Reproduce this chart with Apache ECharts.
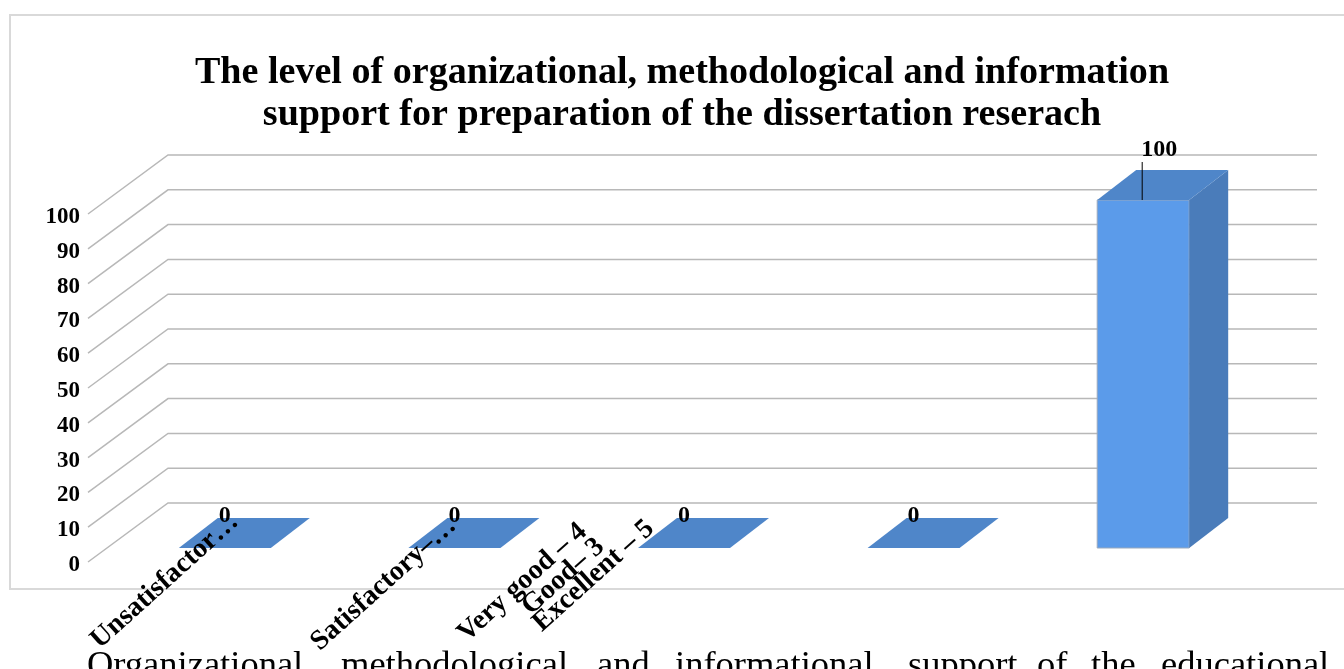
<!DOCTYPE html>
<html><head><meta charset="utf-8">
<style>html,body{margin:0;padding:0;background:#fff}#c{width:1344px;height:669px}</style>
<script src="https://cdn.jsdelivr.net/npm/echarts@6/dist/echarts.min.js"></script>
</head><body><div id="c"></div>
<script>
const categories = ['Unsatisfactor…', 'Satisfactory–…', 'Very good – 4', 'Good– 3', 'Excellent – 5'];
const values = [0, 0, 0, 0, 100];
const yTicks = [0, 10, 20, 30, 40, 50, 60, 70, 80, 90, 100];
const titleText = 'The level of organizational, methodological and information\nsupport for preparation of the dissertation reserach';
const bodyWords = ['Organizational,', 'methodological', 'and', 'informational', 'support', 'of', 'the', 'educational'];

// layout (pixels)
const bodyWordX = [87, 341, 597, 675, 908, 1037, 1091, 1161];
const labelShift = [[10, -30], [-2, -26], [-101, -20], [-313, -5], [-493, -23]];
const serif = '"Liberation Serif", serif';
const depth = [39, -30];

const chart = echarts.init(document.getElementById('c'), null, {renderer: 'canvas'});
chart.setOption({
  animation: false,
  backgroundColor: '#fff',
  title: {
    text: titleText, left: 677, top: 47, textAlign: 'center',
    textStyle: {fontFamily: serif, fontWeight: 'bold', fontSize: 38.1, lineHeight: 42, color: '#000'}
  },
  grid: [
    {left: 88, top: 217, width: 1229, height: 348},
    {left: 110, top: 200, width: 1148, height: 348}
  ],
  xAxis: [
    {gridIndex: 0, type: 'value', min: 0, max: 1, show: false},
    {gridIndex: 1, type: 'category', data: categories, axisLine: {show: false}, axisTick: {show: false}, axisLabel: {show: false}}
  ],
  yAxis: [
    {gridIndex: 0, type: 'value', min: 0, max: 100, interval: 10,
     axisLine: {show: false}, axisTick: {show: false}, splitLine: {show: false},
     axisLabel: {margin: 8, fontFamily: serif, fontWeight: 'bold', fontSize: 23, color: '#000'}},
    {gridIndex: 1, type: 'value', min: 0, max: 100, show: false, splitLine: {show: false}}
  ],
  graphic: [
    {type: 'rect', z: 0, shape: {x: 10, y: 15, width: 1340, height: 574},
     style: {fill: 'none', stroke: '#d9d9d9', lineWidth: 2}}
  ].concat(bodyWords.map((w, i) => ({
    type: 'text', z: 1, x: bodyWordX[i], y: 648,
    style: {text: w, font: '36.5px ' + serif, fill: '#000', textAlign: 'left', verticalAlign: 'top'}
  }))),
  series: [
    {
      type: 'custom', xAxisIndex: 0, yAxisIndex: 0, z: 2, silent: true, clip: false,
      data: yTicks.map(v => [0, v]),
      renderItem(params, api) {
        const c = api.coord([0, api.value(1)]);
        const p = [c[0], c[1] - 3];
        const q = [p[0] + 80, p[1] - 59];
        return {type: 'polyline', shape: {points: [p, q, [1317, q[1]]]},
          style: {fill: 'none', stroke: '#b8b8b8', lineWidth: 1.5}};
      }
    },
    {
      type: 'custom', xAxisIndex: 1, yAxisIndex: 1, z: 3, silent: true, clip: false,
      data: values.map((v, i) => [i, v]),
      renderItem(params, api) {
        const top = api.coord([api.value(0), api.value(1)]);
        const base = api.coord([api.value(0), 0]);
        const w = 92, l = top[0] - w / 2, r = top[0] + w / 2;
        const [dx, dy] = depth;
        const kids = [];
        if (base[1] - top[1] > 0) {
          kids.push({type: 'polygon', shape: {points: [[l, base[1]], [r, base[1]], [r, top[1]], [l, top[1]]]},
            style: {fill: '#5b9bea', stroke: '#9aa9bd', lineWidth: 1}});
          kids.push({type: 'polygon', shape: {points: [[r, base[1]], [r + dx, base[1] + dy], [r + dx, top[1] + dy], [r, top[1]]]},
            style: {fill: '#4a7cba'}});
        }
        kids.push({type: 'polygon', shape: {points: [[l, top[1]], [r, top[1]], [r + dx, top[1] + dy], [l + dx, top[1] + dy]]},
          style: {fill: '#4f86c9'}});
        return {type: 'group', children: kids};
      }
    },
    {
      type: 'custom', xAxisIndex: 1, yAxisIndex: 1, z: 4, silent: true, clip: false,
      data: categories.map((c, i) => [i, 0]),
      renderItem(params, api) {
        const i = api.value(0);
        const p = api.coord([i, 0]);
        return {type: 'text', x: p[0] + labelShift[i][0], y: p[1] + labelShift[i][1], rotation: 42 * Math.PI / 180,
          style: {text: categories[i], font: 'bold 28px ' + serif, fill: '#000', align: 'right', verticalAlign: 'middle'}};
      }
    },
    {
      type: 'custom', xAxisIndex: 1, yAxisIndex: 1, z: 5, silent: true, clip: false,
      data: values.map((v, i) => [i, v]),
      renderItem(params, api) {
        const v = api.value(1);
        const p = api.coord([api.value(0), v]);
        const kids = [];
        if (v > 0) kids.push({type: 'line', shape: {x1: p[0] - 1, y1: p[1], x2: p[0] - 1, y2: p[1] - 38},
          style: {stroke: '#000', lineWidth: 1}});
        kids.push({type: 'text', x: p[0] + (v > 0 ? 16 : 0), y: p[1] - (v > 0 ? 50 : 32),
          style: {text: String(v), font: 'bold 24px ' + serif, fill: '#000', align: 'center', verticalAlign: 'middle'}});
        return {type: 'group', children: kids};
      }
    }
  ]
});
</script></body></html>
